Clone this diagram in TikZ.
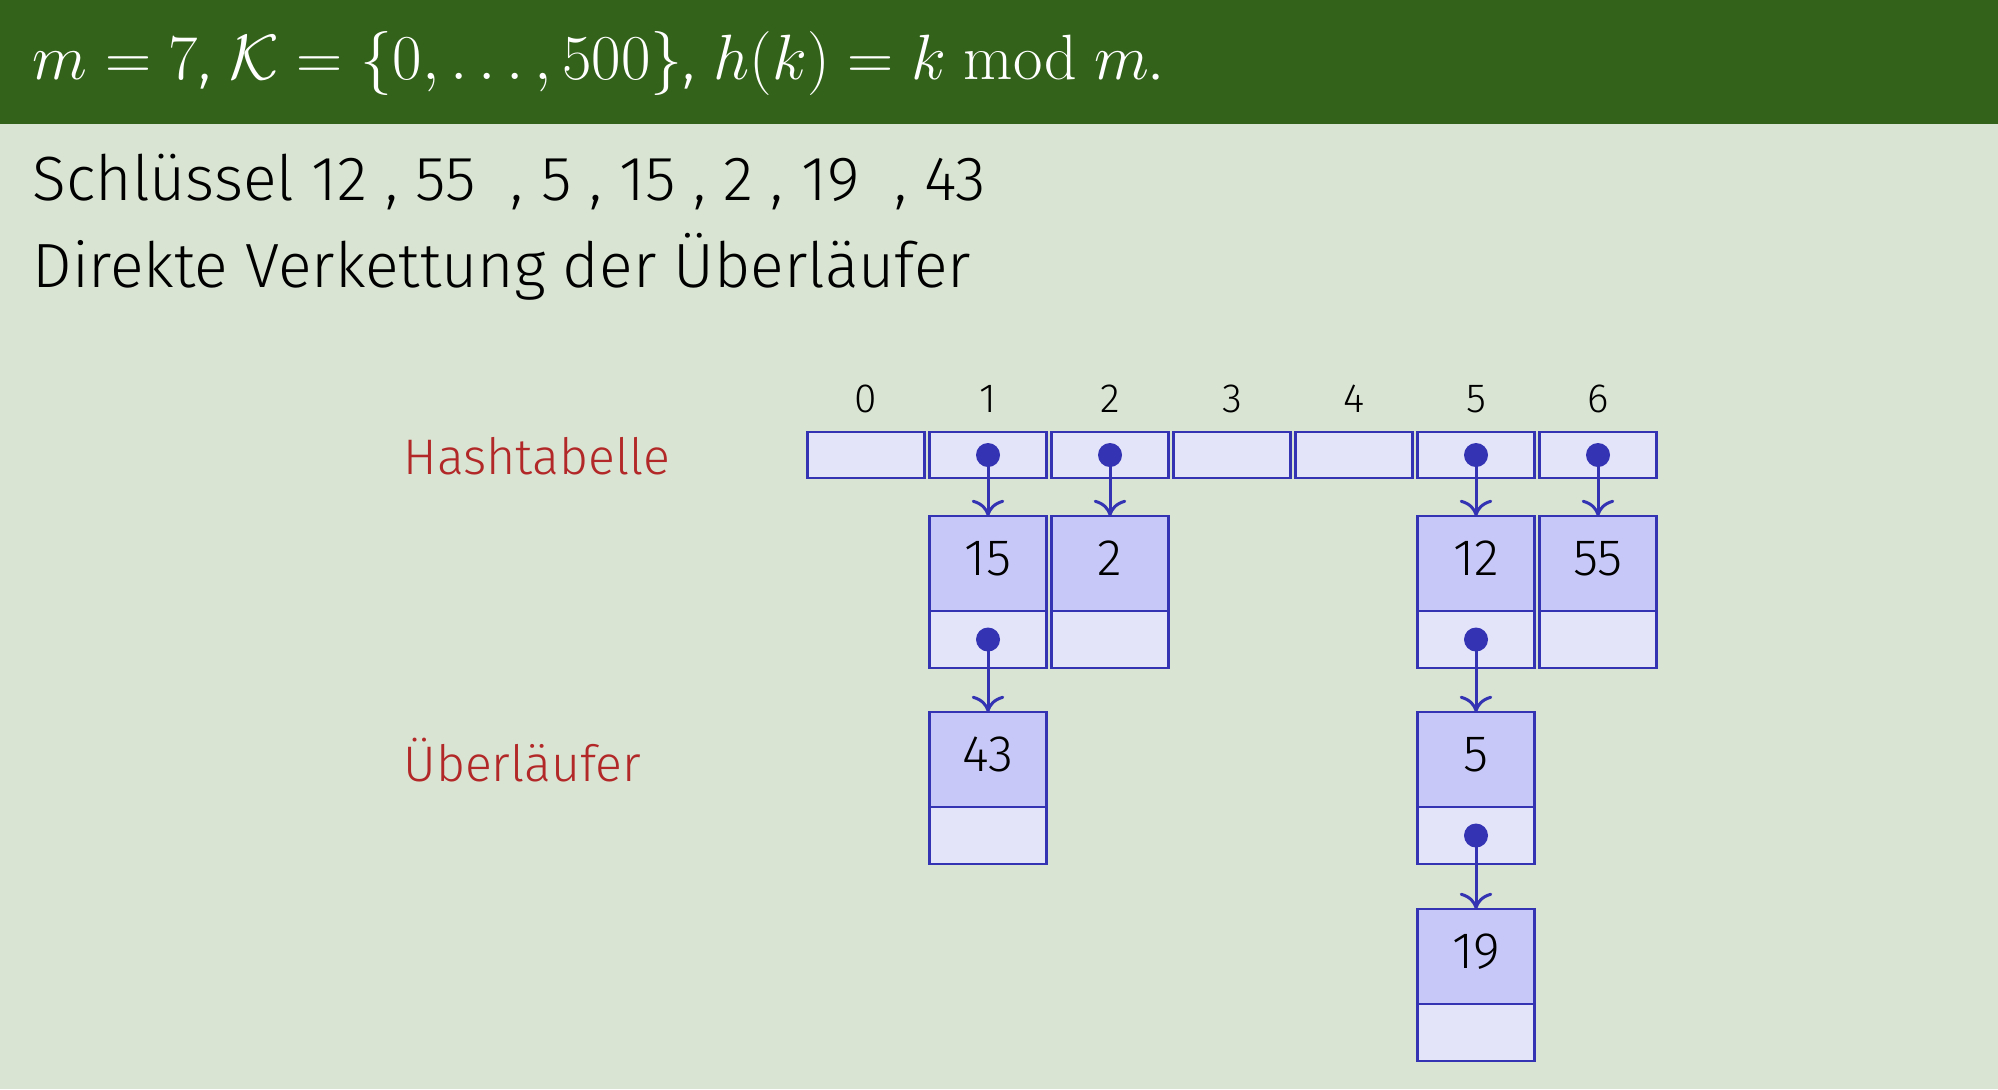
\RequirePackage{fix-cm}
\documentclass[tikz,border=0pt]{standalone}
\usepackage[no-math]{fontspec}
\setmainfont{Fira Sans Light}
\usetikzlibrary{positioning,arrows.meta}

\definecolor{slidebg}{RGB}{217,228,210}
\definecolor{headgreen}{RGB}{51,99,26}
\definecolor{listblue}{RGB}{51,51,179}
\definecolor{keyfill}{RGB}{200,200,248}
\definecolor{ptrfill}{RGB}{227,227,250}
\definecolor{labelred}{RGB}{178,40,40}

\tikzset{
    cell/.style={draw=listblue, fill=ptrfill, line width=1.1pt, minimum width=47pt, minimum height=18.4pt, inner sep=0pt, outer sep=0pt},
    keybox/.style={draw=listblue, fill=keyfill, line width=1.1pt, minimum width=47pt, minimum height=38pt, inner sep=0pt, outer sep=0pt, text depth=4pt, font=\fontsize{20.5pt}{24pt}\selectfont},
    ptrbox/.style={draw=listblue, fill=ptrfill, line width=1.1pt, minimum width=47pt, minimum height=22.8pt, inner sep=0pt, outer sep=0pt},
    idx/.style={font=\fontsize{16.3pt}{19pt}\selectfont, inner sep=0pt},
    ptr/.style={draw=listblue, line width=1.2pt, -{To[length=6.5pt,width=13pt]}},
    sidelabel/.style={text=labelred, anchor=base west, inner sep=0pt, font=\fontsize{20pt}{24pt}\selectfont}
}

\begin{document}
\begin{tikzpicture}[x=0.4pt, y=-0.4pt]
        % slide background and title band
        \fill[slidebg] (0,0) rectangle (1998,1089);
        \fill[headgreen] (0,0) rectangle (1998,124);
        \node[anchor=base west, inner sep=0pt, text=white, font=\fontsize{25.6pt}{30pt}\selectfont] (title) at (32,79)
            {$m = 7$, $\mathcal{K} = \{0, \dots, 500\}$, $h(k) = k \bmod m$.};

        \node[anchor=base west, inner sep=0pt, font=\fontsize{25pt}{30pt}\selectfont] (keys) at (32,200)
            {Schlüssel 12 , 55 \ , 5 , 15 , 2 , 19 \ , 43};
        \node[anchor=base west, inner sep=0pt, font=\fontsize{25pt}{30pt}\selectfont] (method) at (32,287)
            {Direkte Verkettung der Überläufer};

        \node[sidelabel] (hashlabel) at (403,474) {Hashtabelle};
        \node[sidelabel] (overlabel) at (403,781) {Überläufer};

        % hash table
        \foreach \i in {0,...,6} {
            \node[cell] (t\i) at (866+122*\i,455) {};
            \node[idx] (n\i) at (866+122*\i,399) {\i};
        }

        % lists
        \node[keybox] (k15) at (988,563.5) {15};
        \node[ptrbox, below=0pt of k15] (p15) {};
        \node[keybox] (k2) at (1110,563.5) {2};
        \node[ptrbox, below=0pt of k2] (p2) {};
        \node[keybox] (k12) at (1476,563.5) {12};
        \node[ptrbox, below=0pt of k12] (p12) {};
        \node[keybox] (k55) at (1598,563.5) {55};
        \node[ptrbox, below=0pt of k55] (p55) {};
        \node[keybox] (k43) at (988,759.5) {43};
        \node[ptrbox, below=0pt of k43] (p43) {};
        \node[keybox] (k5) at (1476,759.5) {5};
        \node[ptrbox, below=0pt of k5] (p5) {};
        \node[keybox] (k19) at (1476,956.5) {19};
        \node[ptrbox, below=0pt of k19] (p19) {};

        % pointers
        \foreach \from/\to in {t1/k15, t2/k2, t5/k12, t6/k55, p15/k43, p12/k5, p5/k19} {
            \fill[listblue] (\from.center) circle (4.8pt);
            \draw[ptr] (\from.center) -- (\to.north);
        }
    \end{tikzpicture}
\end{document}
